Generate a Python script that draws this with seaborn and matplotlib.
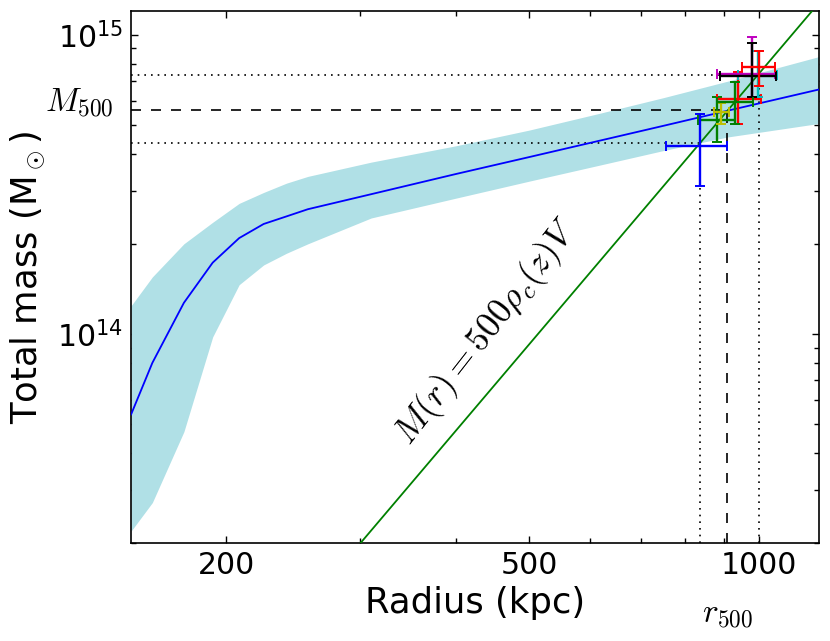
import numpy as np
import pandas as pd
import matplotlib
matplotlib.use("Agg")
import matplotlib.pyplot as plt
import seaborn as sns
from matplotlib.ticker import FixedLocator, FixedFormatter, LogLocator, NullFormatter

# ---------------- data ----------------
r_model = [150, 160, 176, 192, 208, 224, 240, 256, 310, 400, 500, 620, 750, 910, 1200]
m_best = [5.37e13, 8.0e13, 1.27e14, 1.73e14, 2.09e14, 2.33e14, 2.47e14, 2.61e14,
          2.93e14, 3.42e14, 3.90e14, 4.43e14, 4.96e14, 5.57e14, 6.56e14]
m_upper = [1.24e14, 1.55e14, 2.0e14, 2.36e14, 2.73e14, 2.97e14, 3.19e14, 3.36e14,
           3.75e14, 4.25e14, 4.80e14, 5.47e14, 6.16e14, 6.99e14, 8.45e14]
m_lower = [2.19e13, 2.73e13, 4.71e13, 9.77e13, 1.46e14, 1.70e14, 1.86e14, 2.0e14,
           2.44e14, 2.84e14, 3.24e14, 3.67e14, 4.10e14, 4.55e14, 5.05e14]

rho_c = 353.0  # critical density at z, Msun / kpc^3

r500, M500 = 910.0, 5.58e14
r500_lo, M500_lo = 837.0, 4.34e14
r500_hi, M500_hi = 1000.0, 7.36e14

pt_colors = ["g", "r", "c", "m", "y", "k", "b", "g", "r"]
pt_r = [882, 938, 998, 981, 893, 981, 837, 930, 1001]
pt_r_lo = [832, 882, 938, 882, 873, 890, 755, 882, 950]
pt_r_hi = [931, 1006, 1058, 1050, 913, 1053, 910, 982, 1050]
pt_m = [5.17e14, 6.11e14, 7.35e14, 7.39e14, 5.50e14, 7.30e14, 4.24e14, 5.95e14, 7.82e14]
pt_m_lo = [4.38e14, 5.04e14, 6.21e14, 6.20e14, 5.04e14, 6.21e14, 3.11e14, 5.04e14, 6.76e14]
pt_m_hi = [6.17e14, 7.48e14, 8.85e14, 9.80e14, 5.93e14, 9.35e14, 5.43e14, 6.93e14, 8.85e14]

x_ticks = [200, 500, 1000]
x_tick_labels = ["200", "500", "1000"]
xlim = (150, 1200)
ylim = (2e13, 1.2e15)

# ---------------- style ----------------
sns.set_style("ticks", {"xtick.direction": "in", "ytick.direction": "in",
                        "axes.edgecolor": "black", "xtick.color": "black",
                        "ytick.color": "black", "text.color": "black",
                        "axes.labelcolor": "black"})
plt.rcParams["font.family"] = ["DejaVu Sans"]
plt.rcParams["mathtext.fontset"] = "cm"

fig = plt.figure(figsize=(8.3, 6.41), dpi=100)
ax = fig.add_axes([131 / 830, 1 - 543 / 641, 688 / 830, 532 / 641])
ax.set_xscale("log")
ax.set_yscale("log")

df = pd.DataFrame({"r": r_model, "best": m_best, "lo": m_lower, "hi": m_upper})
ax.fill_between(df["r"], df["lo"], df["hi"], color="powderblue", lw=0, zorder=1)
sns.lineplot(data=df, x="r", y="best", color="b", lw=1.3, ax=ax,
             estimator=None, sort=False, zorder=3)

r_line = np.geomspace(xlim[0], xlim[1], 200)
m_line = 500 * rho_c * 4.0 / 3.0 * np.pi * r_line ** 3
sns.lineplot(x=r_line, y=m_line, color="g", lw=1.3, ax=ax, zorder=3)

dash = (0, (6, 6))
dot = (0, (1, 3))
ax.hlines(M500, xlim[0], r500, colors="k", linestyles=dash, lw=1.2, zorder=2)
ax.vlines(r500, ylim[0], M500, colors="k", linestyles=dash, lw=1.2, zorder=2)
for rr, mm in [(r500_lo, M500_lo), (r500_hi, M500_hi)]:
    ax.hlines(mm, xlim[0], rr, colors="k", linestyles=dot, lw=1.2, zorder=2)
    ax.vlines(rr, ylim[0], mm, colors="k", linestyles=dot, lw=1.2, zorder=2)

for c, x, xl, xh, y, yl, yh in zip(pt_colors, pt_r, pt_r_lo, pt_r_hi, pt_m, pt_m_lo, pt_m_hi):
    ax.errorbar([x], [y], xerr=[[x - xl], [xh - x]], yerr=[[y - yl], [yh - y]],
                fmt="none", ecolor=c, elinewidth=1.7, capsize=3.5, capthick=1.4,
                zorder=4)

ax.set_xlim(*xlim)
ax.set_ylim(*ylim)

ax.xaxis.set_major_locator(FixedLocator(x_ticks))
ax.xaxis.set_major_formatter(FixedFormatter(x_tick_labels))
ax.xaxis.set_minor_locator(LogLocator(base=10, subs=np.arange(2, 10)))
ax.xaxis.set_minor_formatter(NullFormatter())
ax.yaxis.set_major_locator(LogLocator(base=10))
ax.yaxis.set_minor_locator(LogLocator(base=10, subs=np.arange(2, 10)))
ax.yaxis.set_minor_formatter(NullFormatter())

ax.tick_params(which="both", direction="in", top=True, right=True, width=1,
               colors="black")
ax.tick_params(which="major", length=5, labelsize=21.5, pad=6)
ax.tick_params(which="minor", length=3.7)
for s in ax.spines.values():
    s.set_linewidth(1.2)
    s.set_color("black")
    s.set_visible(True)

ax.set_xlabel("Radius (kpc)", fontsize=25.5)
ax.set_ylabel(r"Total mass (M$_\odot$)", fontsize=25.5)
ax.xaxis.set_label_coords(0.5, -0.080)
ax.yaxis.set_label_coords(-0.122, 0.5)

ax.annotate(r"$M_{500}$", xy=(0, M500), xycoords=("axes fraction", "data"),
            xytext=(-13, 6), textcoords="offset points", ha="right", va="center",
            fontsize=24)
ax.annotate(r"$r_{500}$", xy=(r500, 0), xycoords=("data", "axes fraction"),
            xytext=(0, -51), textcoords="offset points", ha="center", va="center",
            fontsize=24, annotation_clip=False)
ax.text(440, 1.01e14, r"$M(r) = 500\rho_c(z)V$", rotation=52, ha="center",
        va="center", rotation_mode="anchor", fontsize=25.5)

fig.savefig("out.png", dpi=100)
